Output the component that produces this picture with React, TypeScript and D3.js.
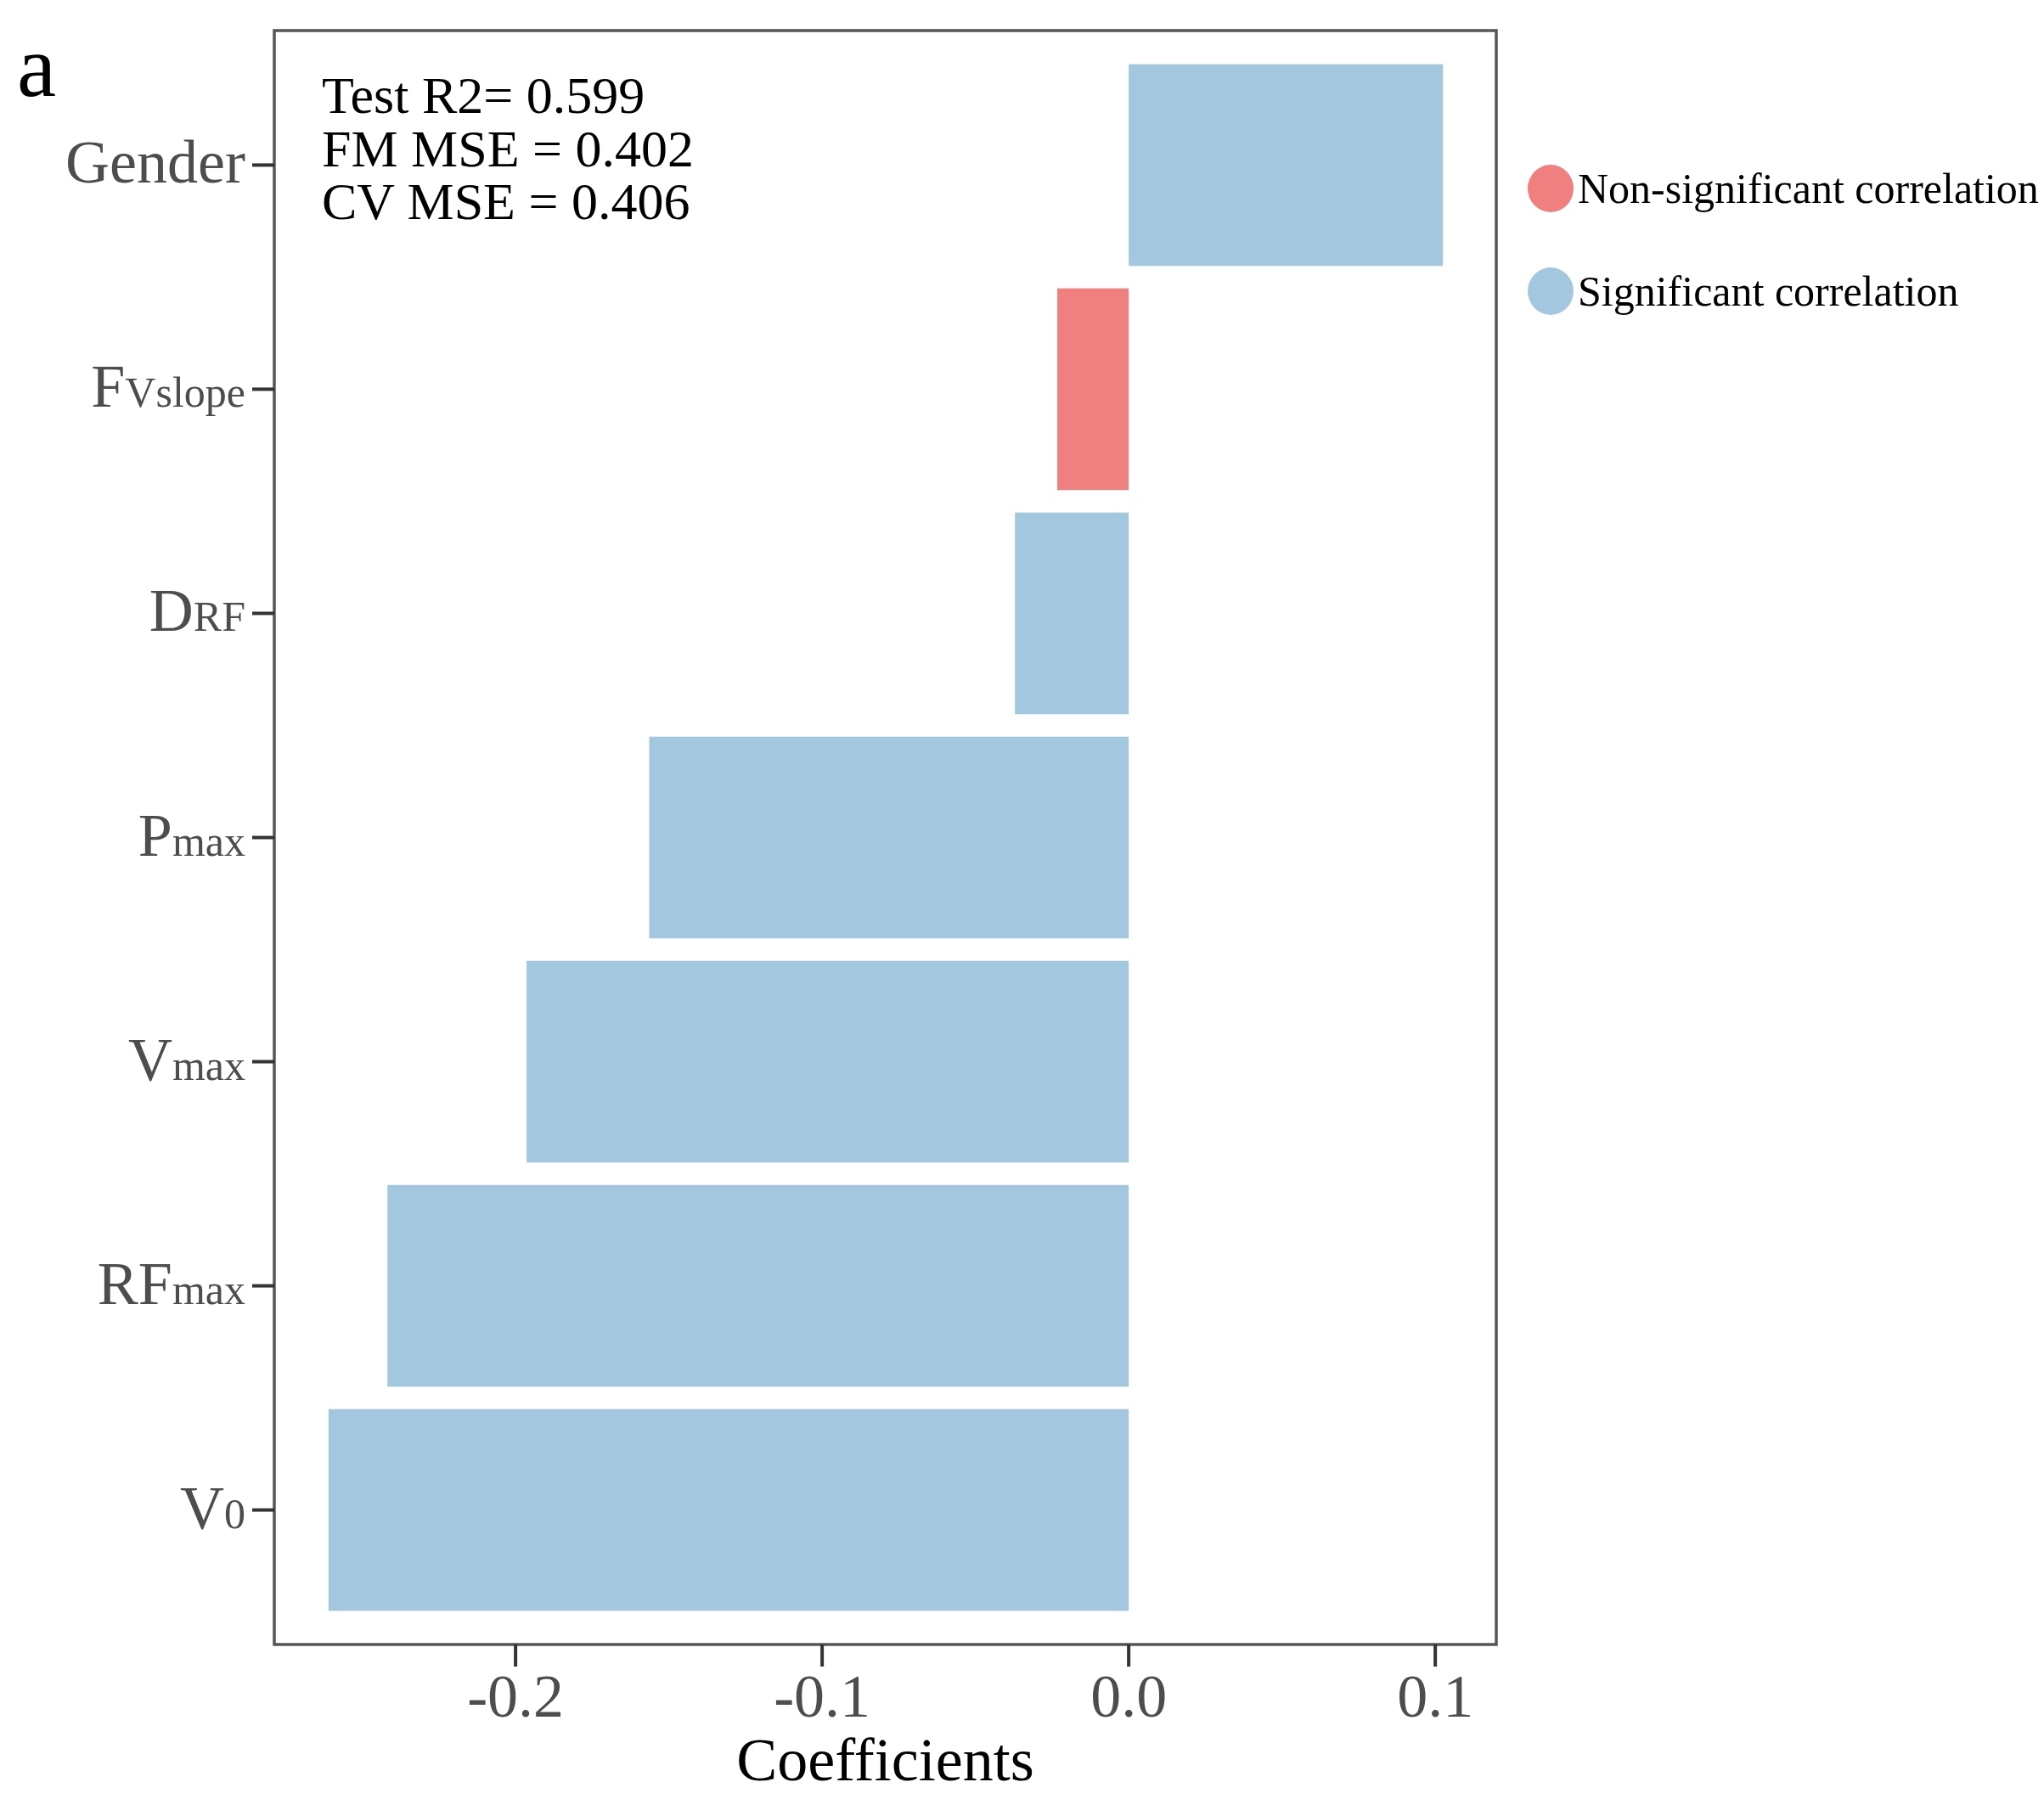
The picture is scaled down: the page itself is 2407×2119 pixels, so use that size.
import React, { useEffect, useRef } from 'react';
import * as d3 from 'd3';

// coefficient per predictor, top to bottom
const categories = ['Gender', 'Fvslope', 'DRF', 'Pmax', 'Vmax', 'RFmax', 'V0'];
const labelMain = ['Gender', 'F', 'D', 'P', 'V', 'RF', 'V'];
const labelSub = ['', 'Vslope', 'RF', 'max', 'max', 'max', '0'];
const coefficients = [0.1025, -0.0233, -0.0371, -0.1564, -0.1964, -0.2418, -0.261];
const significant = [true, false, true, true, true, true, true];
const xTicks = [-0.2, -0.1, 0.0, 0.1];
const statLines = ['Test R2= 0.599', 'FM MSE = 0.402', 'CV MSE = 0.406'];
const legendLabels = ['Non-significant correlation', 'Significant correlation'];
const legendColors = ['#F08080', '#A3C7DF'];

const W = 2407;
const H = 2119;
const FONT = '"Liberation Serif", "Times New Roman", serif';

const App: React.FC = () => {
    const svgRef = useRef<SVGSVGElement | null>(null);

    useEffect(() => {
        const svg = d3.select(svgRef.current);
        svg.selectAll('*').remove();

        const panel = { left: 323, right: 1762, top: 36, bottom: 1937 };

        const x = d3.scaleLinear()
            .domain([-0.2787, 0.1199])
            .range([panel.left, panel.right]);

        const y = d3.scaleBand()
            .domain(categories)
            .range([panel.top, panel.bottom])
            .paddingInner(0.1)
            .paddingOuter(0.15);

        const g = svg.append('g');

        // bars
        g.selectAll('rect.bar')
            .data(categories)
            .enter()
            .append('rect')
            .attr('class', 'bar')
            .attr('x', (d, i) => x(Math.min(0, coefficients[i])))
            .attr('width', (d, i) => Math.abs(x(coefficients[i]) - x(0)))
            .attr('y', d => y(d)!)
            .attr('height', y.bandwidth())
            .attr('fill', (d, i) => significant[i] ? legendColors[1] : legendColors[0]);

        // panel border
        g.append('rect')
            .attr('x', panel.left)
            .attr('y', panel.top)
            .attr('width', panel.right - panel.left)
            .attr('height', panel.bottom - panel.top)
            .attr('fill', 'none')
            .attr('stroke', '#555')
            .attr('stroke-width', 3.5);

        // y axis ticks + labels
        const yAxis = g.append('g');
        categories.forEach((c, i) => {
            const cy = y(c)! + y.bandwidth() / 2;
            yAxis.append('line')
                .attr('x1', panel.left - 26)
                .attr('x2', panel.left)
                .attr('y1', cy)
                .attr('y2', cy)
                .attr('stroke', '#333')
                .attr('stroke-width', 4);
            const t = yAxis.append('text')
                .attr('x', panel.left - 34)
                .attr('y', cy + 21)
                .attr('text-anchor', 'end')
                .attr('font-family', FONT)
                .attr('fill', '#4d4d4d')
                .attr('font-size', 72);
            t.append('tspan').text(labelMain[i]);
            if (labelSub[i]) {
                t.append('tspan').attr('font-size', 50).text(labelSub[i]);
            }
        });

        // x axis
        const xAxis = g.append('g');
        const fmt = (v: number) => v.toFixed(1); // plain hyphen for negatives
        xTicks.forEach(v => {
            xAxis.append('line')
                .attr('x1', x(v))
                .attr('x2', x(v))
                .attr('y1', panel.bottom)
                .attr('y2', panel.bottom + 26)
                .attr('stroke', '#333')
                .attr('stroke-width', 4);
            xAxis.append('text')
                .attr('x', x(v))
                .attr('y', 2022)
                .attr('text-anchor', 'middle')
                .attr('font-family', FONT)
                .attr('font-size', 72)
                .attr('fill', '#4d4d4d')
                .text(fmt(v));
        });

        g.append('text')
            .attr('x', (panel.left + panel.right) / 2)
            .attr('y', 2097)
            .attr('text-anchor', 'middle')
            .attr('font-family', FONT)
            .attr('font-size', 72)
            .attr('fill', '#000')
            .text('Coefficients');

        // stats
        statLines.forEach((s, i) => {
            g.append('text')
                .attr('x', 379)
                .attr('y', 133 + i * 62.5)
                .attr('font-family', FONT)
                .attr('font-size', 62)
                .attr('fill', '#000')
                .text(s);
        });

        // panel letter
        g.append('text')
            .attr('x', 20)
            .attr('y', 113)
            .attr('font-family', FONT)
            .attr('font-size', 104)
            .attr('fill', '#000')
            .text('a');

        // legend
        legendLabels.forEach((l, i) => {
            const cy = 222 + i * 121;
            g.append('ellipse')
                .attr('cx', 1826)
                .attr('cy', cy)
                .attr('rx', 27)
                .attr('ry', 28)
                .attr('fill', legendColors[i]);
            g.append('text')
                .attr('x', 1858)
                .attr('y', cy + 17)
                .attr('font-family', FONT)
                .attr('font-size', 50)
                .attr('fill', '#000')
                .text(l);
        });
    }, []);

    return (
        <svg
            ref={svgRef}
            width={W}
            height={H}
            style={{ position: 'absolute', left: 0, top: 0, background: '#fff' }}
        />
    );
};

export default App;
